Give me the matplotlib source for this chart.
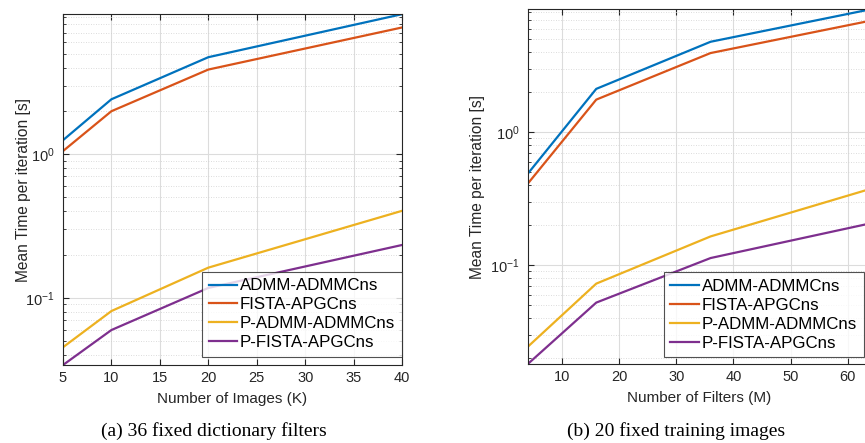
import numpy as np
import matplotlib
matplotlib.use("Agg")
import matplotlib.pyplot as plt
from matplotlib.ticker import LogLocator, NullFormatter, MultipleLocator

plt.rcParams['font.family'] = ['Liberation Sans', 'DejaVu Sans']
plt.rcParams['mathtext.fontset'] = 'custom'
plt.rcParams['mathtext.rm'] = 'Liberation Sans'

labels = ['ADMM-ADMMCns', 'FISTA-APGCns', 'P-ADMM-ADMMCns', 'P-FISTA-APGCns']
colors = ['#0072BD', '#D95319', '#EDB120', '#7E2F8E']

# (a) number of images K, 36 fixed filters
K = [5, 10, 20, 40]
time_K = [
    [1.25, 2.41, 4.73, 9.43],
    [1.05, 1.99, 3.88, 7.62],
    [0.0452, 0.0808, 0.162, 0.403],
    [0.034, 0.0596, 0.117, 0.233],
]

# (b) number of filters M, 20 fixed images
M = [4, 16, 36, 64]
time_M = [
    [0.487, 2.12, 4.79, 8.4],
    [0.410, 1.76, 3.94, 6.9],
    [0.0244, 0.0729, 0.165, 0.376],
    [0.0181, 0.0525, 0.1135, 0.207],
]

fig = plt.figure(figsize=(8.65, 4.43), dpi=100)
ax1 = fig.add_axes([0.0728, 0.176, 0.392, 0.792])
ax2 = fig.add_axes([0.610, 0.178, 0.3965, 0.801])

def style(ax, x, ys, xlab, xstep, ylim, legx, legy, ylabx):
    for y, c, l in zip(ys, colors, labels):
        ax.plot(x, y, color=c, lw=1.6, label=l)
    ax.set_yscale('log')
    ax.set_xlim(x[0], x[-1])
    ax.set_ylim(*ylim)
    ax.xaxis.set_major_locator(MultipleLocator(xstep))
    ax.yaxis.set_major_locator(LogLocator(base=10))
    ax.yaxis.set_minor_locator(LogLocator(base=10, subs=np.arange(2, 10)))
    ax.yaxis.set_minor_formatter(NullFormatter())
    ax.grid(True, which='major', color='#dcdcdc', lw=0.8)
    ax.grid(True, which='minor', axis='y', color='#d0d0d0', lw=0.6, ls=(0, (1, 2)))
    ax.set_axisbelow(True)
    ax.tick_params(which='both', direction='in', top=True, right=True,
                   colors='#262626', labelsize=10.5)
    ax.tick_params(which='major', length=4, pad=4)
    ax.tick_params(axis='y', which='major', pad=6)
    ax.tick_params(which='minor', length=2)
    for s in ax.spines.values():
        s.set_color('#262626')
        s.set_linewidth(0.8)
    ax.set_xlabel(xlab, fontsize=11, color='#262626', labelpad=5)
    ax.set_ylabel('Mean Time per iteration [s]', fontsize=11.2, color='#262626')
    ax.yaxis.set_label_coords(ylabx, 0.5)
    leg = ax.legend(loc='lower right', bbox_to_anchor=(legx, legy), fontsize=12.2,
                    frameon=True, fancybox=False, edgecolor='#262626',
                    borderpad=0.4, labelspacing=0.23, handlelength=1.7,
                    handletextpad=0.15, borderaxespad=0.0)
    leg.get_frame().set_linewidth(0.8)

style(ax1, K, time_K, 'Number of Images (K)', 5, (0.034, 9.43), 1.0, 0.023, -0.094)
style(ax2, M, time_M, 'Number of Filters (M)', 10, (0.0181, 8.4), 0.98, 0.019, -0.125)

fig.text(0.247, 0.027, '(a) 36 fixed dictionary filters', family='Liberation Serif',
         fontsize=14, ha='center', va='center')
fig.text(0.782, 0.027, '(b) 20 fixed training images', family='Liberation Serif',
         fontsize=14, ha='center', va='center')

fig.savefig('out.png', dpi=100)
